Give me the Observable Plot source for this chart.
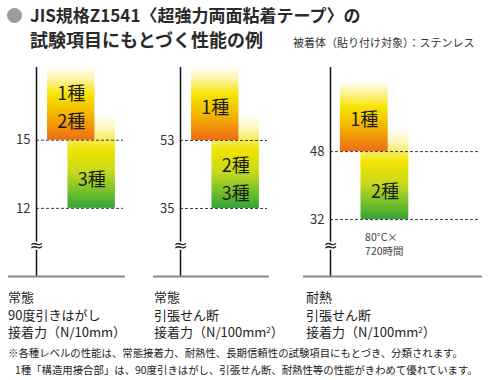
<!DOCTYPE html>
<html><head><meta charset="utf-8">
<script src="https://cdn.jsdelivr.net/npm/d3@7"></script>
<script src="https://cdn.jsdelivr.net/npm/@observablehq/plot@0.6"></script>
<style>
html,body{margin:0;padding:0;background:#fff}
#root{position:relative;width:500px;height:380px;overflow:hidden;font-family:"Noto Sans CJK JP",sans-serif;color:#222;background:#fff}
.abs{position:absolute;white-space:nowrap}
.abs sup{font-size:0.62em;line-height:0;vertical-align:0.55em}
.holder svg{max-width:none !important;display:block}
</style></head><body>
<div id="root"></div>
<script>
// ---------- data ----------
const titleLines = ["JIS規格Z1541〈超強力両面粘着テープ〉の", "試験項目にもとづく性能の例"];
const subtitle = "被着体（貼り付け対象）：ステンレス";
const panelTitles = [
  ["常態", "90度引きはがし", "接着力（N/10mm）"],
  ["常態", "引張せん断", "接着力（N/100mm<sup>2</sup>）"],
  ["耐熱", "引張せん断", "接着力（N/100mm<sup>2</sup>）"]
];
const barLabels = [["1種\n2種", "3種"], ["1種", "2種\n3種"], ["1種", "2種", "3種"]];
const barMin = [[15, 12], [53, 35], [48, 32]];                 // threshold values (ticks)
const barFadeTop = [[18.2, 16.1], [72.3, 59.6], [64.7, 53.4]]; // where the colour fades out
const barTier = [["upper", "lower"], ["upper", "lower"], ["upper", "lower", "lower"]];
const barSlot = [[0, 1], [0, 1], [0, 1, 4]];                    // ordinal slot on the x axis
const barCondition = [["", ""], ["", ""], ["", "80°C×\n720時間", "40°C×\n720時間"]];
const yDomains = [[9, 18.2], [17, 72.3], [18.6, 67.8]];
const footnotes = [
  "※各種レベルの性能は、常態接着力、耐熱性、長期信頼性の試験項目にもとづき、分類されます。",
  "1種「構造用接合部」は、90度引きはがし、引張せん断、耐熱性等の性能がきわめて優れています。"
];

// ---------- style ----------
const layout = [
  {left: 0, width: 140, marginLeft: 36, marginRight: 17, xDomain: [-0.54, 3.7], capLeft: 8},
  {left: 145, width: 140, marginLeft: 35, marginRight: 18, xDomain: [-0.54, 3.7], capLeft: 154},
  {left: 295, width: 205, marginLeft: 35, marginRight: 20, xDomain: [-0.48, 6.77], capLeft: 306}
];
// colour ramps: position 0 = faded top, 1 = bar bottom
const ramps = {
  upper: [[0, "#ffffff"], [0.15, "#fdf5b0"], [0.38, "#f6e400"], [0.66, "#f4b400"], [1, "#ee6c16"]],
  lower: [[0, "#ffffff"], [0.15, "#fbf5b8"], [0.38, "#f1e400"], [0.62, "#c4d91c"], [0.86, "#68bb2c"], [1, "#33a338"]]
};
const BANDS = 36;
const BAR_W = 2.3;
const FONT = "'Noto Sans CJK JP', sans-serif";
const root = document.getElementById("root");

function rampColor(stops, t) {
  for (let k = 1; k < stops.length; k++) {
    if (t <= stops[k][0]) {
      const [a, ca] = stops[k - 1], [b, cb] = stops[k];
      return d3.interpolateRgb(ca, cb)((t - a) / (b - a));
    }
  }
  return stops[stops.length - 1][1];
}

function addDiv(html, css) {
  const d = document.createElement("div");
  d.className = "abs";
  d.innerHTML = html;
  Object.assign(d.style, css);
  root.appendChild(d);
  return d;
}

// title
addDiv("", {left: "7px", top: "7.5px", width: "15px", height: "15px", borderRadius: "50%", background: "#9c9c9c"});
addDiv(titleLines[0], {left: "30px", top: "2px", fontSize: "17px", fontWeight: "bold", lineHeight: "25px", color: "#2a2a2a"});
addDiv(titleLines[1], {left: "30px", top: "27px", fontSize: "18px", fontWeight: "bold", lineHeight: "25px", color: "#2a2a2a"});
addDiv(subtitle, {left: "293px", top: "34px", fontSize: "11px", lineHeight: "16px", color: "#333"});

layout.forEach((L, p) => {
  const rows = barLabels[p].map((label, i) => ({
    label,
    min: barMin[p][i],
    top: barFadeTop[p][i],
    tier: barTier[p][i],
    slot: barSlot[p][i],
    cond: barCondition[p][i]
  }));
  // each bar is painted as thin horizontal colour bands (a vertical gradient)
  const bands = tier => rows.filter(d => d.tier === tier).flatMap(d =>
    d3.range(BANDS).map(k => ({
      slot: d.slot,
      lo: d.min + (d.top - d.min) * k / BANDS,
      hi: d.min + (d.top - d.min) * Math.min(1, (k + 1.6) / BANDS),
      color: rampColor(ramps[tier], 1 - (k + 0.5) / BANDS)
    }))
  );
  const ticks = Array.from(new Set(barMin[p]));
  const upper = rows.filter(d => d.tier === "upper");
  const lower = rows.filter(d => d.tier === "lower");
  const chart = Plot.plot({
    width: L.width, height: 225,
    marginTop: 7, marginBottom: 9, marginLeft: L.marginLeft, marginRight: L.marginRight,
    x: {domain: L.xDomain, axis: null},
    y: {domain: yDomains[p], ticks, tickSize: 0, tickPadding: 6, label: null, tickFormat: d => String(d)},
    color: {type: "identity"},
    style: {fontFamily: FONT, fontSize: "13px", color: "#333", background: "transparent", overflow: "visible"},
    marks: [
      Plot.rect(bands("lower"), {x1: "slot", x2: d => d.slot + BAR_W, y1: "lo", y2: "hi", fill: "color"}),
      Plot.rect(bands("upper"), {x1: "slot", x2: d => d.slot + BAR_W, y1: "lo", y2: "hi", fill: "color"}),
      Plot.ruleY(ticks, {stroke: "#3a3a4a", strokeWidth: 1, strokeDasharray: "3,2"}),
      Plot.ruleX([L.xDomain[0]], {stroke: "#111", strokeWidth: 1.5}),
      Plot.ruleY([yDomains[p][0]], {stroke: "#8a8a8a", strokeWidth: 2, insetLeft: 8 - L.marginLeft, insetRight: -2}),
      Plot.text(["≈"], {frameAnchor: "bottom-left", textAnchor: "middle", lineAnchor: "middle", dy: -31, fontSize: 17, fill: "#222", stroke: "white", strokeWidth: 3, fontFamily: "'DejaVu Sans', sans-serif"}),
      Plot.text(upper, {x: d => d.slot + BAR_W / 2, y: "min", text: "label", dy: -35, fontSize: 18, lineHeight: 1.55, fill: "#1a1a1a", fontFamily: FONT}),
      Plot.text(lower, {x: d => d.slot + BAR_W / 2, y: "min", text: "label", dy: -31, fontSize: 18, lineHeight: 1.55, fill: "#1a1a1a", fontFamily: FONT}),
      Plot.text(rows.filter(d => d.cond), {x: "slot", y: "min", text: "cond", dx: 4, dy: 12, textAnchor: "start", lineAnchor: "top", fontSize: 10.5, lineHeight: 1.28, fill: "#444", fontFamily: FONT})
    ]
  });
  const holder = document.createElement("div");
  holder.className = "holder";
  holder.style.cssText = `position:absolute;left:${L.left}px;top:60px;width:${L.width}px;height:225px;`;
  holder.appendChild(chart);
  root.appendChild(holder);
  addDiv(panelTitles[p].join("<br>"), {left: L.capLeft + "px", top: "288px", fontSize: "13px", lineHeight: "17.5px", color: "#222"});
});

addDiv(footnotes[0], {left: "8px", top: "345px", fontSize: "10.4px", lineHeight: "16.5px", color: "#222"});
addDiv(footnotes[1], {left: "15px", top: "361.5px", fontSize: "10.4px", lineHeight: "16.5px", color: "#222"});
</script>
</body></html>
